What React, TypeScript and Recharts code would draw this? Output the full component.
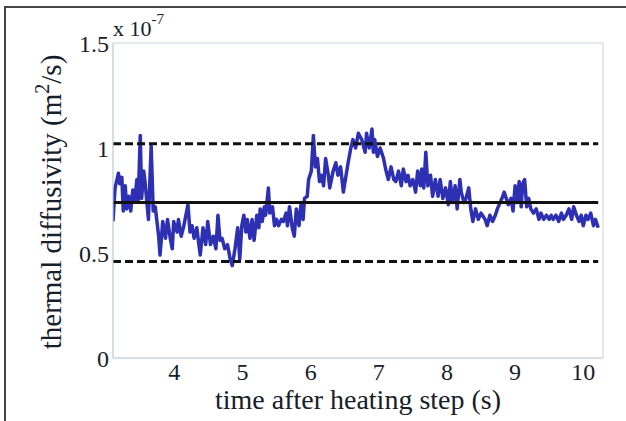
import React from 'react'
import { Line, LineChart, ReferenceArea, XAxis, YAxis } from 'recharts'

// time after the heating step (s)
const TIME = [
  3.1, 3.13, 3.18, 3.2, 3.23, 3.25, 3.28, 3.3, 3.33, 3.36,
  3.39, 3.42, 3.45, 3.47, 3.5, 3.52, 3.55, 3.57, 3.6, 3.62,
  3.66, 3.69, 3.72, 3.77, 3.79, 3.83, 3.87, 3.9, 3.94, 3.97,
  3.99, 4.04, 4.06, 4.1, 4.14, 4.2, 4.23, 4.26, 4.29, 4.33,
  4.36, 4.38, 4.42, 4.46, 4.49, 4.53, 4.57, 4.61, 4.64, 4.67,
  4.7, 4.74, 4.78, 4.82, 4.85, 4.89,
  4.93, 4.96, 4.99, 5.02, 5.05, 5.07, 5.11, 5.14, 5.17, 5.21,
  5.24, 5.26, 5.29, 5.32, 5.34, 5.38, 5.4, 5.44, 5.47, 5.5,
  5.53, 5.57, 5.6, 5.64, 5.66, 5.69, 5.73, 5.76, 5.79, 5.83,
  5.86, 5.89, 5.91, 5.95, 5.97, 6.01, 6.04, 6.07, 6.1, 6.13,
  6.16, 6.19, 6.22, 6.26, 6.28, 6.33, 6.37, 6.4, 6.44, 6.48,
  6.52, 6.55, 6.59, 6.62, 6.66, 6.7,
  6.75, 6.8, 6.82, 6.86, 6.9, 6.92, 6.94, 6.98, 7.02, 7.07,
  7.1, 7.14, 7.18, 7.22, 7.25, 7.29, 7.33, 7.36, 7.4, 7.43,
  7.46, 7.5, 7.54, 7.57, 7.61, 7.63, 7.66, 7.69, 7.72, 7.76,
  7.79, 7.83, 7.87, 7.9, 7.94, 7.98, 8.02, 8.05, 8.08, 8.12,
  8.15, 8.19, 8.21, 8.25, 8.28, 8.32, 8.35, 8.38, 8.42, 8.46,
  8.5,
  8.52, 8.56, 8.59, 8.63, 8.67, 8.71, 8.74, 8.78, 8.82, 8.84,
  8.87, 8.9, 8.94, 8.97, 9.0, 9.03, 9.06, 9.09, 9.11, 9.14,
  9.17, 9.2, 9.23, 9.27, 9.31, 9.35, 9.38, 9.42, 9.46, 9.5,
  9.53, 9.56, 9.6, 9.64, 9.68, 9.71, 9.75, 9.79, 9.83, 9.86,
  9.9, 9.94, 9.97, 10.0, 10.04, 10.07, 10.11, 10.15, 10.18, 10.22,
]

// thermal diffusivity, in units of 1e-7 m^2/s
const DIFFUSIVITY = [
  0.65, 0.81, 0.88, 0.83, 0.86, 0.7, 0.82, 0.71, 0.77, 0.7,
  0.8, 0.75, 0.85, 0.75, 1.06, 0.76, 0.89, 0.84, 0.73, 0.66,
  1.01, 0.7, 0.72, 0.58, 0.49, 0.65, 0.57, 0.66, 0.57, 0.52,
  0.65, 0.6, 0.66, 0.58, 0.63, 0.73, 0.6, 0.63, 0.57, 0.62,
  0.54, 0.49, 0.62, 0.54, 0.65, 0.54, 0.58, 0.52, 0.68, 0.56,
  0.57, 0.52, 0.54, 0.47, 0.44, 0.52,
  0.62, 0.47, 0.63, 0.68, 0.6, 0.66, 0.57, 0.66, 0.56, 0.68,
  0.62, 0.71, 0.65, 0.72, 0.68, 0.81, 0.69, 0.72, 0.63, 0.66,
  0.63, 0.66, 0.65, 0.69, 0.63, 0.72, 0.62, 0.58, 0.71, 0.63,
  0.74, 0.66, 0.76, 0.77, 0.85, 0.89, 1.06, 0.91, 0.95, 0.84,
  0.87, 0.82, 0.95, 0.87, 0.81, 0.89, 0.93, 0.87, 0.91, 0.79,
  0.87, 0.93, 1.0, 1.04, 1.0, 1.07,
  1.04, 0.98, 1.07, 1.0, 1.09, 0.98, 1.04, 0.96, 1.0, 0.95,
  0.9, 0.85, 0.91, 0.85, 0.84, 0.89, 0.82, 0.9, 0.84, 0.87,
  0.82, 0.85, 0.79, 0.89, 0.82, 0.9, 0.81, 0.98, 0.82, 0.87,
  0.77, 0.85, 0.77, 0.85, 0.76, 0.81, 0.73, 0.84, 0.74, 0.82,
  0.71, 0.85, 0.79, 0.74, 0.76, 0.81, 0.71, 0.65, 0.71, 0.66,
  0.69,
  0.68, 0.66, 0.63, 0.68, 0.65, 0.68, 0.71, 0.74, 0.77, 0.79,
  0.76, 0.73, 0.76, 0.7, 0.82, 0.74, 0.84, 0.72, 0.83, 0.85,
  0.72, 0.76, 0.71, 0.69, 0.71, 0.66, 0.69, 0.66, 0.68, 0.66,
  0.68, 0.66, 0.68, 0.65, 0.69, 0.66, 0.68, 0.71, 0.66, 0.72,
  0.68, 0.65, 0.68, 0.63, 0.68, 0.66, 0.69, 0.63, 0.66, 0.62,
]

const MEAN = 0.74
const UPPER = 1.02
const LOWER = 0.46

const X_TICKS = [4, 5, 6, 7, 8, 9, 10]
const Y_TICKS = [0, 0.5, 1, 1.5]
const X_DOMAIN: [number, number] = [3.1, 10.29]

const FONT = '"Liberation Serif", "DejaVu Serif", serif'
const INK = '#17202a'
const BOX = '#c8d2de'

const series = TIME.map((t, i) => ({ t, v: DIFFUSIVITY[i] }))
const tStart = TIME[0]
const tEnd = TIME[TIME.length - 1]
const flat = (v: number) => [
  { t: tStart, v },
  { t: tEnd, v },
]

export default function App() {
  return (
    <div style={{ position: 'relative', width: 626, height: 421, background: '#fff' }}>
      <style>{'body{margin:0}'}</style>
      <div
        style={{
          position: 'absolute',
          left: 4,
          top: 6,
          right: 0,
          bottom: 0,
          borderTop: '2px solid #474747',
          borderLeft: '2px solid #474747',
        }}
      />
      <div style={{ position: 'absolute', left: 0, top: 0 }}>
        <LineChart width={626} height={421} margin={{ top: 43, right: 23, bottom: 0, left: 0 }}>
          <XAxis
            dataKey="t"
            type="number"
            domain={X_DOMAIN}
            ticks={X_TICKS}
            allowDataOverflow
            height={63}
            tickSize={0}
            tickMargin={5}
            axisLine={{ stroke: BOX }}
            tickLine={false}
            tick={{ fontFamily: FONT, fontSize: 24, fill: INK }}
            label={{
              content: () => (
                <text x={358} y={409} textAnchor="middle" fontFamily={FONT} fontSize={28} fill={INK}>
                  time after heating step (s)
                </text>
              ),
            }}
          />
          <YAxis
            dataKey="v"
            type="number"
            domain={[0, 1.5]}
            ticks={Y_TICKS}
            width={113}
            tickSize={0}
            tickMargin={4}
            axisLine={{ stroke: BOX }}
            tickLine={false}
            tick={{ fontFamily: FONT, fontSize: 24, fill: INK }}
            label={{
              content: () => (
                <g fontFamily={FONT} fill={INK}>
                  <text
                    x={61}
                    y={202}
                    transform="rotate(-90 61 202)"
                    textAnchor="middle"
                    fontSize={29}
                  >
                    thermal diffusivity (m
                    <tspan fontSize={20} dy={-12}>2</tspan>
                    <tspan dy={12}>/s)</tspan>
                  </text>
                  <text x={113} y={36} fontSize={22}>
                    x 10
                    <tspan fontSize={15} dy={-12}>-7</tspan>
                  </text>
                </g>
              ),
            }}
          />
          <ReferenceArea
            x1={X_DOMAIN[0]}
            x2={X_DOMAIN[1]}
            y1={0}
            y2={1.5}
            fill="none"
            stroke={BOX}
            strokeWidth={1}
          />
          <Line
            data={series}
            dataKey="v"
            type="linear"
            stroke="#2e30b4"
            strokeWidth={3.5}
            strokeLinejoin="round"
            dot={false}
            isAnimationActive={false}
          />
          <Line
            data={flat(MEAN)}
            dataKey="v"
            stroke="#111"
            strokeWidth={3}
            dot={false}
            isAnimationActive={false}
          />
          <Line
            data={flat(UPPER)}
            dataKey="v"
            stroke="#111"
            strokeWidth={3}
            strokeDasharray="8 4"
            dot={false}
            isAnimationActive={false}
          />
          <Line
            data={flat(LOWER)}
            dataKey="v"
            stroke="#111"
            strokeWidth={3}
            strokeDasharray="8 4"
            dot={false}
            isAnimationActive={false}
          />
        </LineChart>
      </div>
    </div>
  )
}
